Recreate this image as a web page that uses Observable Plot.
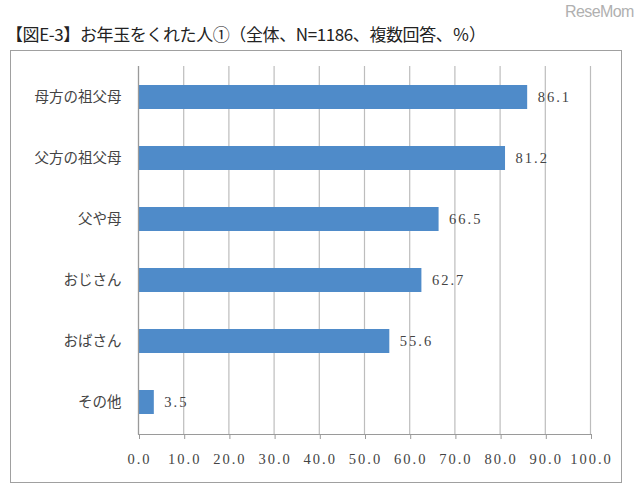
<!DOCTYPE html>
<html><head><meta charset="utf-8">
<script src="https://cdn.jsdelivr.net/npm/d3@7"></script>
<script src="https://cdn.jsdelivr.net/npm/@observablehq/plot@0.6"></script>
<style>
body{margin:0;background:#fff;width:640px;height:497px;position:relative;overflow:hidden;font-family:"Noto Sans CJK JP",sans-serif;}
#wm{position:absolute;left:565px;top:3px;font:16px "Liberation Sans",Arial,sans-serif;color:#b0b0b0;letter-spacing:-0.6px;}
#title{position:absolute;left:6px;top:21px;font-size:17px;color:#222;white-space:nowrap;letter-spacing:-0.4px;}
#box{position:absolute;left:10px;top:50px;width:610px;height:431px;border:1px solid #a0a0a0;}
#box svg{display:block;}
</style></head><body>
<div id="wm">ReseMom</div>
<div id="title">【図E-3】お年玉をくれた人①（全体、N=1186、複数回答、％）</div>
<div id="box"></div>
<script>
const categories = ["母方の祖父母","父方の祖父母","父や母","おじさん","おばさん","その他"];
const values = [86.1, 81.2, 66.5, 62.7, 55.6, 3.5];
const xTicks = [0,10,20,30,40,50,60,70,80,90,100];
const data = categories.map((c,i)=>({c, v: values[i]}));
const chart = Plot.plot({
  width: 610, height: 431,
  marginLeft: 127, marginRight: 31, marginTop: 15, marginBottom: 48,
  style: {fontFamily: '"Noto Sans CJK JP", sans-serif', background: "#fff"},
  x: {domain: [0,100]},
  y: {domain: categories, paddingInner: 0.6, paddingOuter: 0.3},
  marks: [
    Plot.gridX(xTicks, {stroke: "#bdbdbd", strokeOpacity: 1, strokeWidth: 1.2}),
    Plot.barX(data, {x: "v", y: "c", fill: "#4f8bc9"}),
    Plot.text(data, {x: "v", y: "c", text: d => d.v.toFixed(1), dx: 10, textAnchor: "start",
      fontFamily: '"Liberation Serif", serif', fontSize: 14.5, fill: "#444"}),
    Plot.ruleX([0], {stroke: "#9a9a9a", strokeWidth: 1.2}),
    Plot.frame({anchor: "bottom", stroke: "#9a9a9a", strokeWidth: 1.2}),
    Plot.axisX(xTicks, {tickSize: 5, tickPadding: 14, stroke: "#9a9a9a", tickFormat: d => d.toFixed(1),
      fontFamily: '"Liberation Serif", serif', fontSize: 14.5, fill: "#444", label: null, dx: 1}),
    Plot.axisY({tickSize: 0, tickPadding: 17, fontSize: 14.5, fill: "#444", label: null,
      fontFamily: '"Noto Sans CJK JP", sans-serif'})
  ]
});
document.getElementById("box").appendChild(chart);
document.querySelectorAll("#box svg text").forEach(t => {
  if (/^\d+\.\d$/.test(t.textContent)) t.style.letterSpacing = "2px";
});
</script>
</body></html>
